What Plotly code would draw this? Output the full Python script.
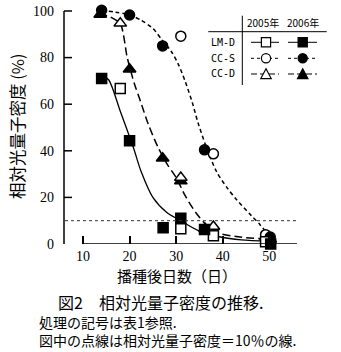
import plotly.graph_objects as go

# ---- data -------------------------------------------------------------
# days after sowing (x) and relative photon flux density in % (y)
lmd05_x = [18.0, 31.0, 38.0, 49.2]
lmd05_y = [66.7, 6.5, 3.5, 1.0]
lmd06_x = [14.0, 20.0, 27.2, 31.0, 36.1, 50.3]
lmd06_y = [71.0, 44.3, 7.0, 11.0, 6.2, 0.0]

ccs05_x = [31.0, 38.0, 49.2]
ccs05_y = [89.2, 38.7, 4.0]
ccs06_x = [14.0, 20.0, 27.1, 36.1, 50.2]
ccs06_y = [100.3, 98.3, 85.0, 40.4, 3.0]

ccd05_x = [18.0, 31.0, 38.0, 49.3]
ccd05_y = [94.7, 28.5, 7.5, 3.0]
ccd06_x = [13.7, 20.0, 27.1, 31.0, 36.2, 50.2]
ccd06_y = [98.5, 75.0, 36.8, 27.0, 6.5, 2.0]

# fitted response curves
fit_lmd_x = [14, 15.5, 18, 20.8, 22.5, 25, 28, 30.5, 35, 39.5, 44, 50]
fit_lmd_y = [72.5, 70.5, 57, 41.5, 31, 20, 13.5, 10.5, 5.5, 3.0, 1.8, 1.2]
fit_ccd_x = [13.5, 16, 18, 19.5, 21, 22.3, 24, 26, 28, 30, 32, 34.4, 36.6, 39.4, 43.7, 50]
fit_ccd_y = [99, 97.3, 94.5, 80, 69, 61.5, 51.5, 42, 34.5, 28.5, 20.5, 13, 8, 4.5, 3.0, 2.0]
fit_ccs_x = [14, 17, 20, 22.5, 25, 27, 29, 30.5, 32, 33.5, 34.7, 36.5, 38.7, 41, 43, 46, 48, 50]
fit_ccs_y = [100.3, 99.5, 98.3, 96, 92.5, 87.5, 82.5, 77, 69.5, 60.5, 52, 41.5, 31, 24, 19, 12.5, 8.3, 3.5]

threshold = 10
x_ticks = [10, 20, 30, 40, 50]
y_ticks = [0, 20, 40, 60, 80, 100]

# ---- geometry ---------------------------------------------------------
W_FIG, H_FIG = 341, 352
L, R, T, B = 64, 44, 4, 108
PW, PH = W_FIG - L - R, H_FIG - T - B
X_RANGE = [5.92, 55.95]
Y_RANGE = [0, 103]


def px(x):
    return (x - L) / PW


def py(y):
    return (T + PH - y) / PH


JP = "Noto Sans CJK JP"
SERIF = "Liberation Serif"
MONO = "DejaVu Sans Mono"
BLACK = "black"

SHORT = "4px,3px"
LONG = "8px,4px"

fig = go.Figure()

# curves
fig.add_trace(go.Scatter(x=fit_lmd_x, y=fit_lmd_y, mode="lines",
                         line=dict(color=BLACK, width=1.3, shape="spline", smoothing=0.8),
                         hoverinfo="skip"))
fig.add_trace(go.Scatter(x=fit_ccd_x, y=fit_ccd_y, mode="lines",
                         line=dict(color=BLACK, width=1.5, dash=LONG, shape="spline", smoothing=0.8),
                         hoverinfo="skip"))
fig.add_trace(go.Scatter(x=fit_ccs_x, y=fit_ccs_y, mode="lines",
                         line=dict(color=BLACK, width=1.5, dash=SHORT, shape="spline", smoothing=0.8),
                         hoverinfo="skip"))


def pts(x, y, symbol, filled, size):
    fig.add_trace(go.Scatter(
        x=x, y=y, mode="markers", cliponaxis=False,
        marker=dict(symbol=symbol, size=size,
                    color=BLACK if filled else "white",
                    line=dict(color=BLACK, width=1.5)),
        hoverinfo="skip"))


pts(ccd06_x, ccd06_y, "triangle-up", True, 11)
pts(ccd05_x, ccd05_y, "triangle-up", False, 11)
pts(ccs05_x, ccs05_y, "circle", False, 10)
pts(ccs06_x, ccs06_y, "circle", True, 10)
pts(lmd05_x, lmd05_y, "square", False, 10)
pts(lmd06_x, lmd06_y, "square", True, 10)

shapes = []
# axis lines
shapes.append(dict(type="line", xref="paper", yref="y", x0=0, x1=0, y0=0, y1=100,
                   line=dict(color=BLACK, width=1.5)))
shapes.append(dict(type="line", xref="x", yref="y", x0=x_ticks[0], x1=X_RANGE[1], y0=0, y1=0,
                   line=dict(color=BLACK, width=1.5)))
# y tick marks (inside), none at zero
for v in y_ticks[1:]:
    shapes.append(dict(type="line", xref="paper", yref="y", x0=0, x1=8 / PW, y0=v, y1=v,
                       line=dict(color=BLACK, width=1.5)))
# 10 % reference line
shapes.append(dict(type="line", xref="paper", yref="y", x0=1 / PW, x1=1, y0=threshold, y1=threshold,
                   line=dict(color="#333333", width=1, dash="dot")))

# legend table
shapes.append(dict(type="line", xref="paper", yref="paper", x0=px(242.3), x1=px(242.3),
                   y0=py(15.7), y1=py(85), line=dict(color=BLACK, width=1)))
shapes.append(dict(type="line", xref="paper", yref="paper", x0=px(208.3), x1=px(326.7),
                   y0=py(31.7), y1=py(31.7), line=dict(color=BLACK, width=1)))

rows = [("LM-D", 42.3, "solid", "square"),
        ("CC-S", 58.3, "3px,3px", "circle"),
        ("CC-D", 74.0, "6px,3px", "triangle")]
cols = [(266.0, 251.0, 279.0, False), (302.7, 288.0, 317.0, True)]
ms = 4.6
for label, ry, dash, sym in rows:
    for cx, sx0, sx1, filled in cols:
        shapes.append(dict(type="line", xref="paper", yref="paper", x0=px(sx0), x1=px(sx1),
                           y0=py(ry), y1=py(ry), line=dict(color=BLACK, width=1, dash=dash)))
        fill = BLACK if filled else "white"
        if sym == "square":
            shapes.append(dict(type="rect", xref="paper", yref="paper",
                               x0=px(cx - ms), x1=px(cx + ms), y0=py(ry + ms), y1=py(ry - ms),
                               fillcolor=fill, line=dict(color=BLACK, width=1.2)))
        elif sym == "circle":
            shapes.append(dict(type="circle", xref="paper", yref="paper",
                               x0=px(cx - ms), x1=px(cx + ms), y0=py(ry + ms), y1=py(ry - ms),
                               fillcolor=fill, line=dict(color=BLACK, width=1.2)))
        else:
            path = "M {:.4f},{:.4f} L {:.4f},{:.4f} L {:.4f},{:.4f} Z".format(
                px(cx), py(ry - ms - 0.6), px(cx - ms - 0.6), py(ry + ms), px(cx + ms + 0.6), py(ry + ms))
            shapes.append(dict(type="path", xref="paper", yref="paper", path=path,
                               fillcolor=fill, line=dict(color=BLACK, width=1.2)))

annotations = []
for label, ry, _, _ in rows:
    annotations.append(dict(text=label, xref="paper", yref="paper", x=px(209), y=py(ry),
                            xanchor="left", yanchor="middle", showarrow=False,
                            font=dict(family=MONO, size=10, color=BLACK)))
for txt, cx in [("2005年", 263.3), ("2006年", 303.3)]:
    annotations.append(dict(text=txt, xref="paper", yref="paper", x=px(cx), y=py(22.7),
                            xanchor="center", yanchor="middle", showarrow=False,
                            font=dict(family=JP, size=10, color=BLACK)))

# axis titles
annotations.append(dict(text="相対光量子密度 (%)", xref="paper", yref="paper", x=px(17), y=py(126),
                        xanchor="center", yanchor="middle", textangle=-90, showarrow=False,
                        font=dict(family=JP, size=16.5, color=BLACK)))
annotations.append(dict(text="播種後日数（日）", xref="paper", yref="paper", x=px(177), y=py(275),
                        xanchor="center", yanchor="middle", showarrow=False,
                        font=dict(family=JP, size=15, color=BLACK)))

# caption
annotations.append(dict(text="図2　相対光量子密度の推移.", xref="paper", yref="paper",
                        x=px(56), y=py(301.5), xanchor="left", yanchor="middle", showarrow=False,
                        font=dict(family=JP, size=16, color=BLACK)))
annotations.append(dict(text="処理の記号は表1参照.<br>図中の点線は相対光量子密度＝10％の線.",
                        xref="paper", yref="paper", align="left",
                        x=px(37), y=py(330.5), xanchor="left", yanchor="middle", showarrow=False,
                        font=dict(family=JP, size=14, color=BLACK)))

fig.update_layout(
    width=W_FIG, height=H_FIG,
    margin=dict(l=L, r=R, t=T, b=B),
    paper_bgcolor="white", plot_bgcolor="white",
    showlegend=False,
    shapes=shapes, annotations=annotations,
    xaxis=dict(range=X_RANGE, tickvals=x_ticks, ticks="inside", ticklen=8, tickwidth=1.5,
               tickcolor=BLACK, showline=False, showgrid=False, zeroline=False,
               tickfont=dict(family=SERIF, size=14, color=BLACK), ticklabelstandoff=2),
    yaxis=dict(range=Y_RANGE, tickvals=y_ticks, ticks="", showline=False, showgrid=False,
               zeroline=False, tickfont=dict(family=SERIF, size=14, color=BLACK),
               ticklabelstandoff=9),
)

fig.write_html("out.html")
